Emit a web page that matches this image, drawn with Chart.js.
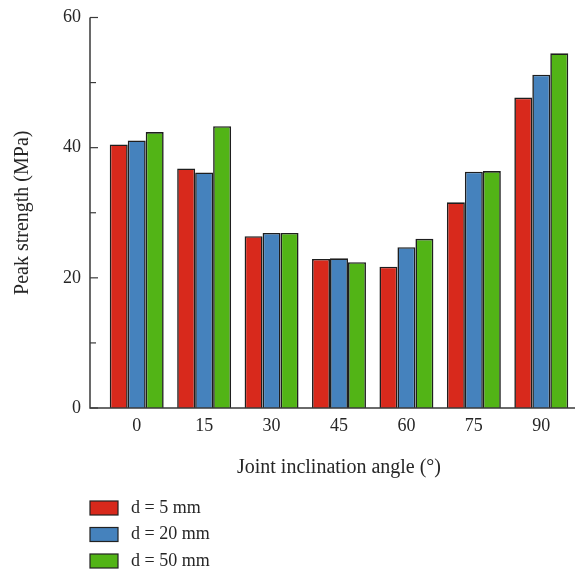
<!DOCTYPE html>
<html>
<head>
<meta charset="utf-8">
<script src="https://cdn.jsdelivr.net/npm/chart.js@4/dist/chart.umd.min.js"></script>
<style>
  html, body { margin: 0; padding: 0; background: #fff; }
  #wrap { width: 580px; height: 575px; }
</style>
</head>
<body>
<div id="wrap"><canvas id="chart" width="580" height="575"></canvas></div>
<script>
const angles = ["0", "15", "30", "45", "60", "75", "90"];
const d5 = [40.5, 36.8, 26.4, 22.9, 21.7, 31.6, 47.7];
const d20 = [41.1, 36.2, 26.9, 23.0, 24.7, 36.3, 51.2];
const d50 = [42.4, 43.3, 26.9, 22.4, 26.0, 36.4, 54.5];
const seriesLabels = ["d = 5 mm", "d = 20 mm", "d = 50 mm"];
const minorTicks = [10, 30, 50];

const FONT = "'Liberation Serif', 'Times New Roman', serif";
const INK = "#262626";
const AXIS = "#3a3a3a";

// axis line + inward ticks sit a bit left of the plot area, like the original
const axisPlugin = {
    id: "axisLines",
    afterDatasetsDraw(chart) {
        const ctx = chart.ctx;
        const y = chart.scales.y;
        const area = chart.chartArea;
        const ax = area.left - 13;
        ctx.save();
        ctx.strokeStyle = AXIS;
        ctx.lineWidth = 1.5;
        ctx.beginPath();
        ctx.moveTo(ax, y.getPixelForValue(60));
        ctx.lineTo(ax, area.bottom);
        ctx.lineTo(area.right, area.bottom);
        ctx.stroke();
        ctx.lineWidth = 1.2;
        y.ticks.forEach(t => {
            let py = y.getPixelForValue(t.value);
            ctx.beginPath();
            ctx.moveTo(ax, py);
            ctx.lineTo(ax + 8, py);
            ctx.stroke();
        });
        minorTicks.forEach(v => {
            let py = y.getPixelForValue(v);
            ctx.beginPath();
            ctx.moveTo(ax, py);
            ctx.lineTo(ax + 6, py);
            ctx.stroke();
        });
        ctx.restore();
    }
};

// stacked legend under the axis title
const legendPlugin = {
    id: "stackLegend",
    afterDraw(chart) {
        const ctx = chart.ctx;
        const x0 = chart.chartArea.left - 13;
        ctx.save();
        ctx.font = "18px " + FONT;
        ctx.textBaseline = "middle";
        chart.data.datasets.forEach((ds, i) => {
            let cy = 508 + i * 26.5;
            ctx.fillStyle = ds.backgroundColor;
            ctx.fillRect(x0, cy - 7, 28, 14);
            ctx.strokeStyle = "#222";
            ctx.lineWidth = 1.2;
            ctx.strokeRect(x0, cy - 7, 28, 14);
            ctx.fillStyle = INK;
            ctx.fillText(ds.label, x0 + 41, cy);
        });
        ctx.restore();
    }
};

const colors = ["#d8291c", "#4582bd", "#52b416"];
const values = [d5, d20, d50];

new Chart(document.getElementById("chart"), {
    type: "bar",
    data: {
        labels: angles,
        datasets: values.map((v, i) => ({
            label: seriesLabels[i],
            data: v,
            backgroundColor: colors[i],
            borderColor: "#1e1e1e",
            borderWidth: 1.6,
            categoryPercentage: 0.8,
            barPercentage: 1.0
        }))
    },
    options: {
        responsive: false,
        animation: false,
        layout: { padding: { left: 0, right: 5, top: 17.5, bottom: 95 } },
        plugins: {
            legend: { display: false },
            tooltip: { enabled: false }
        },
        scales: {
            x: {
                grid: { display: false, drawTicks: false },
                border: { display: false },
                ticks: { color: INK, font: { family: FONT, size: 18 }, padding: 7 },
                title: {
                    display: true,
                    text: "Joint inclination angle (°)",
                    color: INK,
                    font: { family: FONT, size: 20 },
                    padding: { top: 0, bottom: 0 }
                },
                afterFit(scale) { scale.height = 72; }
            },
            y: {
                min: 0,
                max: 60,
                grid: { display: false, drawTicks: false },
                border: { display: false },
                ticks: { stepSize: 20, color: INK, font: { family: FONT, size: 18 }, padding: 22 },
                title: {
                    display: true,
                    text: "Peak strength (MPa)",
                    color: INK,
                    font: { family: FONT, size: 20 },
                    padding: { top: 11, bottom: 0 }
                },
                afterFit(scale) {
                    scale.width = 103;
                    scale.paddingTop = 0;
                    scale.paddingBottom = 0;
                }
            }
        }
    },
    plugins: [axisPlugin, legendPlugin]
});
</script>
</body>
</html>
